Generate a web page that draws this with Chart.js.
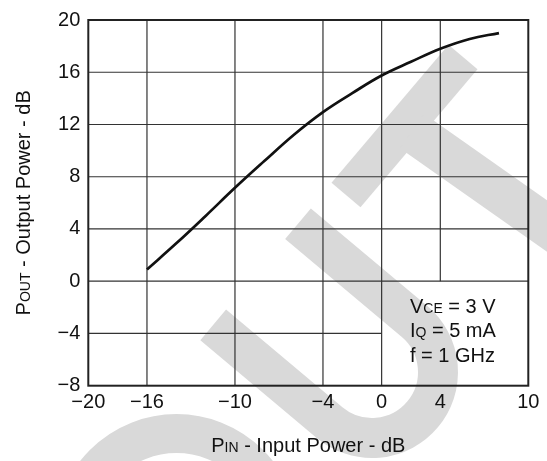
<!DOCTYPE html>
<html><head><meta charset="utf-8">
<script src="https://cdn.jsdelivr.net/npm/chart.js@4.4.1/dist/chart.umd.min.js"></script>
<style>html,body{margin:0;padding:0;background:#fff}canvas{display:block}</style>
</head><body>
<canvas id="c" width="547" height="461"></canvas>
<script>
// ---- data ----
const pinValues  = [-16, -14, -12, -10, -8, -6, -4, -2, 0, 2, 4, 6, 8];
const poutValues = [0.9, 2.9, 5.0, 7.15, 9.2, 11.2, 12.95, 14.4, 15.75, 16.8, 17.8, 18.55, 19.0];
const xTickValues = [-20, -16, -10, -4, 0, 4, 10];
const xTickLabels = ['\u221220', '\u221216', '\u221210', '\u22124', '0', '4', '10'];
const yTickValues = [-8, -4, 0, 4, 8, 12, 16, 20];
const yTickLabels = ['\u22128', '\u22124', '0', '4', '8', '12', '16', '20'];
const xTitle = ['P', 'IN', ' - Input Power - dB'];
const yTitle = ['P', 'OUT', ' - Output Power - dB'];
const noteLines = [['V', 'CE', ' = 3 V'], ['I', 'Q', ' = 5 mA'], ['f', '', ' = 1 GHz']];

const FONT = "'Liberation Sans', Arial, Helvetica, sans-serif";
const MAIN = 20, SUB = 14;

function richParts(p){ return [[p[0], MAIN], [p[1], SUB], [p[2], MAIN]]; }
function richWidth(ctx, parts){
  let w = 0;
  for (const [t, s] of parts){ ctx.font = s + 'px ' + FONT; w += ctx.measureText(t).width; }
  return w;
}
function drawRich(ctx, parts, x, y, align){
  let cx = align === 'center' ? x - richWidth(ctx, parts) / 2 : x;
  ctx.textBaseline = 'alphabetic'; ctx.textAlign = 'left';
  for (const [t, s] of parts){
    ctx.font = s + 'px ' + FONT;
    ctx.fillText(t, cx, y);
    cx += ctx.measureText(t).width;
  }
}

const watermark = {
  id: 'watermark',
  beforeDraw(chart){
    const ctx = chart.ctx;
    ctx.save();
    ctx.fillStyle = '#fff';
    ctx.fillRect(0, 0, chart.width, chart.height);
    ctx.strokeStyle = '#d9d9d9';
    ctx.lineCap = 'butt';
    // T
    ctx.lineWidth = 38;
    ctx.beginPath(); ctx.moveTo(346, 195); ctx.lineTo(463, 57); ctx.stroke();
    ctx.lineWidth = 42;
    ctx.beginPath(); ctx.moveTo(412, 131); ctx.lineTo(675, 316); ctx.stroke();
    // U
    ctx.lineWidth = 40;
    ctx.beginPath();
    ctx.moveTo(298, 223.7); ctx.lineTo(414.4, 321.4);
    ctx.arc(372, 372, 66, -50 * Math.PI / 180, 130 * Math.PI / 180, false);
    ctx.lineTo(213.2, 324.9);
    ctx.stroke();
    // O
    ctx.lineWidth = 39;
    ctx.beginPath(); ctx.arc(176.5, 536.6, 103, 0, Math.PI * 2); ctx.stroke();
    ctx.restore();
  }
};

const gridAndText = {
  id: 'gridAndText',
  beforeDatasetsDraw(chart){
    const {ctx, chartArea: a, scales: {x, y}} = chart;
    ctx.save();
    ctx.strokeStyle = '#333';
    ctx.lineWidth = 1.2;
    const y0 = y.getPixelForValue(0), x0 = x.getPixelForValue(0);
    xTickValues.forEach(v => {
      if (v === x.min || v === x.max) return;
      const px = x.getPixelForValue(v);
      const yEnd = v > 0 ? y0 : a.bottom;
      ctx.beginPath(); ctx.moveTo(px, a.top); ctx.lineTo(px, yEnd); ctx.stroke();
    });
    yTickValues.forEach(v => {
      if (v === y.min || v === y.max) return;
      const py = y.getPixelForValue(v);
      const xEnd = v < 0 ? x0 : a.right;
      ctx.beginPath(); ctx.moveTo(a.left, py); ctx.lineTo(xEnd, py); ctx.stroke();
    });
    ctx.strokeStyle = '#222';
    ctx.lineWidth = 2;
    ctx.strokeRect(a.left, a.top, a.right - a.left, a.bottom - a.top);
    ctx.restore();
  },
  afterDraw(chart){
    const {ctx, chartArea: a, scales: {x, y}} = chart;
    ctx.save();
    ctx.fillStyle = '#111';
    // note
    const nx = x.getPixelForValue(1.93);
    const rows = [-2.4, -4.29, -6.18];
    noteLines.forEach((p, i) => drawRich(ctx, richParts(p), nx, y.getPixelForValue(rows[i]), 'left'));
    // x title
    drawRich(ctx, richParts(xTitle), (a.left + a.right) / 2, 451.5, 'center');
    // y title
    ctx.translate(30, (a.top + a.bottom) / 2);
    ctx.rotate(-Math.PI / 2);
    drawRich(ctx, richParts(yTitle), 0, 0, 'center');
    ctx.restore();
  }
};

new Chart(document.getElementById('c'), {
  type: 'line',
  data: {
    datasets: [{
      data: pinValues.map((v, i) => ({x: v, y: poutValues[i]})),
      borderColor: '#111',
      borderWidth: 2.7,
      pointRadius: 0,
      fill: false,
      tension: 0.4
    }]
  },
  options: {
    responsive: false,
    animation: false,
    devicePixelRatio: 1,
    layout: {padding: {left: 0, top: 15.7, right: 18.7, bottom: 0}},
    plugins: {legend: {display: false}, tooltip: {enabled: false}},
    scales: {
      x: {
        type: 'linear', min: -20, max: 10,
        afterBuildTicks: s => { s.ticks = xTickValues.map(v => ({value: v})); },
        afterFit: s => { s.height = 75.3; },
        grid: {display: false, drawTicks: false},
        border: {display: false},
        ticks: {
          color: '#111', padding: 5,
          font: {family: FONT, size: MAIN},
          maxRotation: 0, autoSkip: false,
          callback: v => xTickLabels[xTickValues.indexOf(v)]
        }
      },
      y: {
        type: 'linear', min: -8, max: 20,
        afterBuildTicks: s => { s.ticks = yTickValues.map(v => ({value: v})); },
        afterFit: s => { s.width = 88.3; },
        grid: {display: false, drawTicks: false},
        border: {display: false},
        ticks: {
          color: '#111', padding: 8,
          font: {family: FONT, size: MAIN},
          autoSkip: false,
          callback: v => yTickLabels[yTickValues.indexOf(v)]
        }
      }
    }
  },
  plugins: [watermark, gridAndText]
});
</script>
</body></html>
